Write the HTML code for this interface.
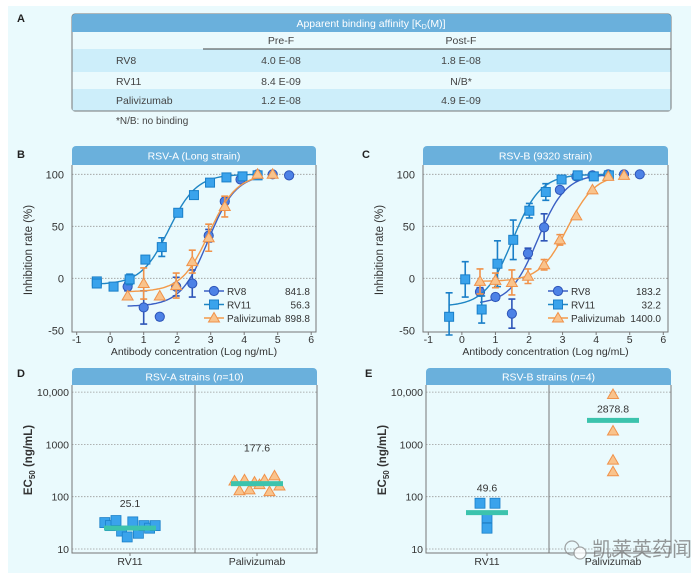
<!DOCTYPE html>
<html><head><meta charset="utf-8"><style>
html,body{margin:0;padding:0;background:#fff;}
svg{display:block;font-family:"Liberation Sans","Noto Sans CJK SC",sans-serif;}
</style></head><body>
<svg id="fig" width="700" height="578" viewBox="0 0 700 578" xmlns="http://www.w3.org/2000/svg">
<rect x="8" y="6" width="683" height="567" fill="#eafafd"/>
<g>
<text x="17" y="22" font-size="11" font-weight="bold" fill="#222">A</text>
<rect x="72" y="14" width="599" height="97" rx="3" fill="#eafafd" stroke="#777" stroke-width="1"/>
<path d="M72,32 V17 a3,3 0 0 1 3,-3 H668 a3,3 0 0 1 3,3 V32 Z" fill="#6ab0dc"/>
<text x="371" y="27" font-size="10.5" fill="#fff" text-anchor="middle">Apparent binding affinity [K<tspan font-size="7" dy="2">D</tspan><tspan dy="-2">(M)]</tspan></text>
<rect x="72.5" y="49" width="598" height="23" fill="#cdeefa"/>
<rect x="72.5" y="89" width="598" height="21.5" fill="#cdeefa"/>
<line x1="203" y1="49" x2="671" y2="49" stroke="#444" stroke-width="1"/>
<g font-size="10.5" fill="#444">
<text x="281" y="44" text-anchor="middle">Pre-F</text>
<text x="461" y="44" text-anchor="middle">Post-F</text>
<text x="116" y="64">RV8</text><text x="281" y="64" text-anchor="middle">4.0 E-08</text><text x="461" y="64" text-anchor="middle">1.8 E-08</text>
<text x="116" y="85">RV11</text><text x="281" y="85" text-anchor="middle">8.4 E-09</text><text x="461" y="85" text-anchor="middle">N/B*</text>
<text x="116" y="104">Palivizumab</text><text x="281" y="104" text-anchor="middle">1.2 E-08</text><text x="461" y="104" text-anchor="middle">4.9 E-09</text>
<text x="116" y="124" font-size="10">*N/B: no binding</text>
</g>
</g>
<g id="panels"></g>
<g opacity="0.75">
<circle cx="572" cy="548" r="7" fill="none" stroke="#888" stroke-width="1.2"/>
<circle cx="580" cy="553" r="6" fill="#fff" stroke="#888" stroke-width="1.2"/>
<text x="592" y="556" font-size="20" fill="#777" font-family="'Noto Sans CJK SC',sans-serif">凯莱英药闻</text>
</g>
</svg>
<script>
// ---------- data: panels B and C ----------
const bX_rv8 = [0.52,1.0,1.48,1.97,2.45,2.94,3.42,3.89,4.4,4.85,5.34];
const bY_rv8 = [-8,-28,-37,-8,-5,41,74,95,100,100,99];
const bE_rv8 = [4,16,3,9,13,6,0,0,0,0,0];
const bX_rv11 = [-0.4,-0.4,0.1,0.58,1.05,1.54,2.03,2.5,2.98,3.47,3.95,4.4];
const bY_rv11 = [-3,-5,-8,-1,18,30,63,80,92,97,98,99];
const bE_rv11 = [0,0,0,5,0,9,0,0,0,0,0,0];
const bX_pal = [0.52,1.0,1.48,1.97,2.45,2.94,3.42,4.4,4.85];
const bY_pal = [-17,-5,-17,-7,16,39,69,100,100];
const bE_pal = [0,15,0,12,11,13,10,0,0];
const bEC50 = [841.8,56.3,898.8];
const bBottom = [-27,-6,-13];

const cX_rv8 = [0.54,1.0,1.49,1.97,2.45,2.92,3.41,3.89,4.36,4.83,5.3];
const cY_rv8 = [-13,-18,-34,24,49,85,98,99,100,100,100];
const cE_rv8 = [4,3,14,5,13,0,0,0,0,0,0];
const cX_rv11 = [-0.38,0.1,0.59,1.06,1.53,2.01,2.5,2.97,3.45,3.93,4.38];
const cY_rv11 = [-37,-1,-30,14,37,65,83,95,99,98,99];
const cE_rv11 = [23,17,13,22,19,7,8,0,0,0,0];
const cX_pal = [0.54,1.0,1.49,1.97,2.45,2.92,3.41,3.89,4.36,4.83];
const cY_pal = [-3,-2,-4,2,13,37,60,85,98,99];
const cE_pal = [12,7,12,7,5,5,0,0,0,0];
const cEC50 = [183.2,32.2,1400.0];
const cBottom = [-25,-27,-3];

const xTicks = [-1,0,1,2,3,4,5,6];
const yTicks = [-50,0,50,100];
const seriesNames = ['RV8','RV11','Palivizumab'];

// ---------- data: panels D and E ----------
const dRV11 = [32,28,35,22,17,33,20,28,25,28];
const dPal = [200,130,210,135,190,170,210,125,250,160];
const dMedian = [25.1,177.6];
const eRV11 = [75,75,40,25];
const ePal = [9000,1800,500,300];
const eMedian = [49.6,2878.8];
const logTicks = [10,100,1000,10000];
const logTickLabels = ['10','100','1000','10,000'];

const NS='http://www.w3.org/2000/svg';
const root=document.getElementById('panels');
function el(tag,attrs,parent){const e=document.createElementNS(NS,tag);for(const k in attrs)e.setAttribute(k,attrs[k]);(parent||root).appendChild(e);return e;}
function txt(x,y,s,attrs,parent){const t=el('text',Object.assign({x:x,y:y},attrs||{}),parent);t.textContent=s;return t;}

const COL={rv8:{line:'#3a5fc4',fill:'#4d82e6',stroke:'#2e55b8'},rv11:{line:'#1f86c4',fill:'#3aa3ec',stroke:'#1a7fc8'},pal:{line:'#f39a4a',fill:'#f9c38c',stroke:'#f0924a'}};

function header(x0,x1,y0,y1,label,g){
  el('path',{d:`M${x0},${y1} V${y0+4} a4,4 0 0 1 4,-4 H${x1-4} a4,4 0 0 1 4,4 V${y1} Z`,fill:'#6ab0dc'},g);
  const t=txt((x0+x1)/2,y0+(y1-y0)/2+4,'',{ 'font-size':'10.5',fill:'#fff','text-anchor':'middle'},g);
  t.innerHTML=label;
  
  
}

function marker(type,x,y,c,g){
  let m;
  if(type==='circle') m=el('circle',{cx:x,cy:y,r:4.6,fill:c.fill,stroke:c.stroke,'stroke-width':1},g);
  else if(type==='square') m=el('rect',{x:x-4.5,y:y-4.5,width:9,height:9,fill:c.fill,stroke:c.stroke,'stroke-width':1},g);
  else m=el('path',{d:`M${x},${y-5.5} L${x+5.5},${y+4} L${x-5.5},${y+4} Z`,fill:c.fill,stroke:c.stroke,'stroke-width':1},g);
  return m;
}

function doseChart(opt){
  const g=el('g',{});
  
  
  const X=v=>opt.x0+(v+1)*opt.ux, Y=v=>278.3-v*1.04;
  txt(opt.labelX,158,opt.letter,{'font-size':'11','font-weight':'bold',fill:'#222'},g);
  header(opt.px0,opt.px1,146,165,opt.title,g);
  yTicks.forEach(t=>{
    if(t>-50){const gl=el('line',{x1:opt.px0,x2:opt.px1,y1:Y(t),y2:Y(t),stroke:'#999','stroke-width':0.8,'stroke-dasharray':'1.5,1.5'},g);
    
    }
    const tl=txt(opt.px0-8,Y(t)+4,String(t),{'font-size':'11',fill:'#333','text-anchor':'end'},g);
    
    
  });
  el('path',{d:`M${opt.px0},165 V332 H${opt.px1} V165`,fill:'none',stroke:'#777','stroke-width':1},g);
  xTicks.forEach(t=>{
    el('line',{x1:X(t),x2:X(t),y1:332,y2:335,stroke:'#777'},g);
    const tl=txt(X(t),343,String(t),{'font-size':'10.5',fill:'#333','text-anchor':'middle'},g);
    
    
  });
  const xt=txt((opt.px0+opt.px1)/2,355,'Antibody concentration (Log ng/mL)',{'font-size':'10.5',fill:'#333','text-anchor':'middle'},g);
  
  
  const cy=250;
  const yt=txt(opt.px0-40,cy,'Inhibition rate (%)',{'font-size':'11.5',fill:'#333','text-anchor':'middle',transform:`rotate(-90 ${opt.px0-40} ${cy})`},g);
  
  
  const keys=['rv8','rv11','pal'], types=['circle','square','tri'];
  keys.forEach((k,i)=>{
    const c=COL[k], xs=opt.data[k][0], ys=opt.data[k][1], es=opt.data[k][2];
    const ec=Math.log10(opt.ec50[i]), bot=opt.bottom[i], top=100, h=1.05;
    const xa=xs[0], xb=xs[xs.length-1]<4.5?xs[xs.length-1]:4.5;
    let d='';
    for(let s=0;s<=80;s++){const xv=xa+(xb-xa)*s/80;const yv=bot+(top-bot)/(1+Math.pow(10,(ec-xv)*h));d+=(s?'L':'M')+X(xv).toFixed(1)+','+Y(yv).toFixed(1);}
    const cv=el('path',{d:d,fill:'none',stroke:c.line,'stroke-width':1.4},g);
    
    
    xs.forEach((xv,j)=>{
      const px=X(xv), py=Y(ys[j]);
      if(es[j]>0){
        const e1=Math.min(Y(ys[j]-es[j]),335);
        el('path',{d:`M${px},${Y(ys[j]+es[j])}V${e1}M${px-3.5},${Y(ys[j]+es[j])}H${px+3.5}M${px-3.5},${e1}H${px+3.5}`,stroke:c.stroke,'stroke-width':1.6,fill:'none'},g);
      }
      const m=marker(types[i],px,py,c,g);
      
      
    });
    const ly=291+i*13.5;
    el('line',{x1:opt.legX,x2:opt.legX+20,y1:ly,y2:ly,stroke:c.line,'stroke-width':1.4},g);
    const lm=marker(types[i],opt.legX+10,ly,c,g);
    
    
    const lt=txt(opt.legX+23,ly+4,seriesNames[i],{'font-size':'10',fill:'#333'},g);
    
    
    const lv=txt(opt.legValX,ly+4,opt.ec50[i].toFixed(1),{'font-size':'10',fill:'#333','text-anchor':'end'},g);
    
    
  });
}

doseChart({name:'panel-b-rsv-a-chart',letter:'B',labelX:17,title:'RSV-A (Long strain)',px0:72,px1:316,x0:76.7,ux:33.5,
  data:{rv8:[bX_rv8,bY_rv8,bE_rv8],rv11:[bX_rv11,bY_rv11,bE_rv11],pal:[bX_pal,bY_pal,bE_pal]},ec50:bEC50,bottom:bBottom,legX:204,legValX:310});
doseChart({name:'panel-c-rsv-b-chart',letter:'C',labelX:362,title:'RSV-B (9320 strain)',px0:423,px1:668,x0:428.3,ux:33.57,
  data:{rv8:[cX_rv8,cY_rv8,cE_rv8],rv11:[cX_rv11,cY_rv11,cE_rv11],pal:[cX_pal,cY_pal,cE_pal]},ec50:cEC50,bottom:cBottom,legX:548,legValX:661});

function scatterChart(opt){
  const g=el('g',{});
  
  
  const Y=v=>549-(Math.log10(v)-1)*52.3;
  txt(opt.labelX,377,opt.letter,{'font-size':'11','font-weight':'bold',fill:'#222'},g);
  header(opt.px0,opt.px1,368,385,opt.title,g);
  logTicks.forEach((t,i)=>{
    const gl=el('line',{x1:opt.px0,x2:opt.px1,y1:Y(t),y2:Y(t),stroke:'#999','stroke-width':0.8,'stroke-dasharray':'1.5,1.5'},g);
    
    
    const tl=txt(opt.px0-3,Y(t)+4,logTickLabels[i],{'font-size':'10.5',fill:'#333','text-anchor':'end'},g);
    
    
  });
  el('path',{d:`M${opt.px0},385 V553 H${opt.px1} V385`,fill:'none',stroke:'#777','stroke-width':1},g);
  el('line',{x1:opt.div,x2:opt.div,y1:385,y2:553,stroke:'#777'},g);
  [opt.c1,opt.c2].forEach((cx,i)=>{
    el('line',{x1:cx,x2:cx,y1:553,y2:556,stroke:'#777'},g);
    const tl=txt(cx,565,i?'Palivizumab':'RV11',{'font-size':'10.5',fill:'#333','text-anchor':'middle'},g);
    
    
  });
  const cy=460, lx=opt.px0-40;
  const yt=txt(lx,cy,'',{'font-size':'11.5','font-weight':'bold',fill:'#333','text-anchor':'middle',transform:`rotate(-90 ${lx} ${cy})`},g);
  yt.innerHTML='EC<tspan font-size="8" dy="3">50</tspan><tspan dy="-3"> (ng/mL)</tspan>';
  
  
  const n1=opt.rv11.length, n2=opt.pal.length;
  opt.rv11.forEach((v,j)=>{
    const px=opt.c1+(n1>1?(j-(n1-1)/2)*opt.sp1:0)+(opt.off1?opt.off1[j]:0);
    const m=el('rect',{x:px-5,y:Y(v)-5,width:10,height:10,fill:'#3aa3ec',stroke:'#1a7fc8','stroke-width':0.8},g);
    
    
  });
  opt.pal.forEach((v,j)=>{
    const px=opt.c2+(n2>1?(j-(n2-1)/2)*opt.sp2:0);
    const m=marker('tri',px,Y(v),COL.pal,g);
    
    
  });
  [opt.c1,opt.c2].forEach((cx,i)=>{
    const y=Y(opt.med[i]);
    const b=el('rect',{x:cx-opt.bw[i]/2,y:y-2.5,width:opt.bw[i],height:5,fill:'#3cc3ad'},g);
    
    
    const lt=txt(cx,y-opt.labOff[i],opt.med[i].toFixed(1),{'font-size':'10.5',fill:'#333','text-anchor':'middle'},g);
    
    
  });
}

scatterChart({name:'panel-d-rsv-a-strains',letter:'D',labelX:17,title:'RSV-A strains (<tspan font-style="italic">n</tspan>=10)',px0:72,px1:317,div:195,c1:130,c2:257,
  rv11:dRV11,pal:dPal,sp1:5.6,sp2:5,med:dMedian,bw:[52,52],labOff:[21,32]});
scatterChart({name:'panel-e-rsv-b-strains',letter:'E',labelX:365,title:'RSV-B strains (<tspan font-style="italic">n</tspan>=4)',px0:426,px1:671,div:549,c1:487,c2:613,
  rv11:eRV11,pal:ePal,sp1:0,sp2:0,off1:[-7,8,0,0],med:eMedian,bw:[42,52],labOff:[21,8]});
</script>
</body></html>
